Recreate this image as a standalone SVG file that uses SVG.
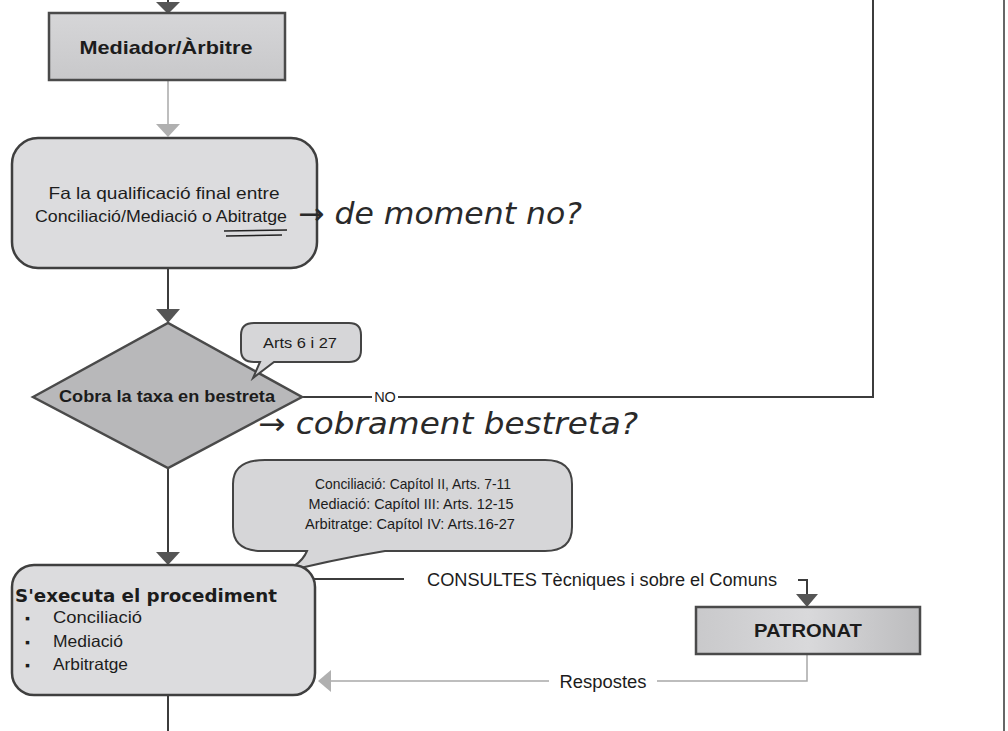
<svg xmlns="http://www.w3.org/2000/svg" width="1008" height="731" viewBox="0 0 1008 731">
<defs>
<linearGradient id="gbox" x1="0" y1="0" x2="0" y2="1"><stop offset="0" stop-color="#d6d6d8"/><stop offset="1" stop-color="#c8c8ca"/></linearGradient>
<linearGradient id="gpat" x1="0" y1="0" x2="1" y2="0"><stop offset="0" stop-color="#c9c9cb"/><stop offset="0.5" stop-color="#d9d9db"/><stop offset="1" stop-color="#bcbcbe"/></linearGradient>
</defs>
<style>
.box{fill:url(#gbox);stroke:#4a4a4a;stroke-width:2.5}
.rnd{fill:#dcdcde;stroke:#3f3f3f;stroke-width:2.5}
.call{fill:#d6d6d8;stroke:#444;stroke-width:2}
.dk{stroke:#3c3c3c;stroke-width:2;fill:none}
.lt{stroke:#a8a8a8;stroke-width:1.5;fill:none}
.ahd{fill:#555}
.ahl{fill:#b0b0b0}
.t{font-family:"Liberation Sans",Arial,sans-serif;fill:#1c1c1c}
.b{font-weight:bold}
.hw{font-family:"DejaVu Sans",sans-serif;font-style:italic;fill:#2a2a2a;font-weight:300}
</style>
<rect width="1008" height="731" fill="#ffffff"/>
<line x1="1004" y1="0" x2="1004" y2="731" stroke="#666" stroke-width="2"/>

<g id="connectors">
<line class="dk" x1="168" y1="0" x2="168" y2="6"/>
<polygon class="ahd" points="156,2 180,2 168,14"/>
<line class="lt" x1="168" y1="80" x2="168" y2="125"/>
<polygon class="ahl" points="156,124 180,124 168,137"/>
<line class="dk" x1="168" y1="268" x2="168" y2="310"/>
<polygon class="ahd" points="156,309 180,309 168,323"/>
<polyline class="dk" points="302,397 372,397"/>
<polyline class="dk" points="398,397 873,397 873,0"/>
<line class="dk" x1="168" y1="468" x2="168" y2="553"/>
<polygon class="ahd" points="156,552 180,552 168,565"/>
<line class="dk" x1="168" y1="695" x2="168" y2="731"/>
<line class="dk" x1="307" y1="579" x2="404" y2="579"/>
<polyline class="dk" points="798,580 807,580 807,595"/>
<polygon class="ahd" points="796,594 818,594 807,607"/>
<polyline class="lt" points="807,654 807,681 657,681"/>
<line class="lt" x1="549" y1="681" x2="331" y2="681"/>
<polygon class="ahl" points="318,681 331,670 331,692"/>
</g>

<g id="n-mediador">
<rect class="box" x="49" y="13" width="236" height="67"/>
<text class="t b" x="166" y="54" font-size="19" text-anchor="middle" textLength="173" lengthAdjust="spacingAndGlyphs">Mediador/Àrbitre</text>
</g>

<g id="n-qualificacio">
<rect class="rnd" x="12" y="138" width="305" height="130" rx="26"/>
<text class="t" x="164" y="199" font-size="16.5" text-anchor="middle" textLength="231" lengthAdjust="spacingAndGlyphs">Fa la qualificació final entre</text>
<text class="t" x="161" y="222" font-size="16.5" text-anchor="middle" textLength="252" lengthAdjust="spacingAndGlyphs">Conciliació/Mediació o Abitratge</text>
<path d="M224,231 L287,230 M226,236 L282,235" stroke="#222" stroke-width="1.6" fill="none"/>
</g>

<g id="n-taxa">
<polygon points="33,397 168,323 302,397 168,468" fill="#b8b8ba" stroke="#4a4a4a" stroke-width="2.5"/>
<text class="t b" x="167" y="402" font-size="17" text-anchor="middle" textLength="216" lengthAdjust="spacingAndGlyphs">Cobra la taxa en  bestreta</text>
</g>

<g id="n-arts">
<path class="call" d="M254,323 H349 Q361,323 361,335 V350 Q361,362 349,362 H274 L253,378 L260,362 H254 Q241,362 241,350 V335 Q241,323 254,323 Z"/>
<text class="t" x="300" y="348" font-size="15" text-anchor="middle" textLength="74" lengthAdjust="spacingAndGlyphs">Arts 6 i 27</text>
</g>

<g id="n-capitols">
<path class="call" d="M265,460 H545 Q572,460 572,484 V527 Q572,551 545,551 H385 Q330,560 272,575 Q300,568 307,551 H262 Q233,551 233,527 V484 Q233,460 265,460 Z"/>
<text class="t" x="413" y="489" font-size="14.5" text-anchor="middle" textLength="196" lengthAdjust="spacingAndGlyphs">Conciliació: Capítol II, Arts. 7-11</text>
<text class="t" x="411" y="509" font-size="14.5" text-anchor="middle" textLength="205" lengthAdjust="spacingAndGlyphs">Mediació: Capítol III:  Arts. 12-15</text>
<text class="t" x="410" y="529" font-size="14.5" text-anchor="middle" textLength="210" lengthAdjust="spacingAndGlyphs">Arbitratge: Capítol IV: Arts.16-27</text>
</g>

<g id="n-executa">
<rect class="rnd" x="12" y="565" width="303" height="130" rx="22"/>
<text class="t b" x="15" y="602" font-size="18" style="font-family:'DejaVu Sans',sans-serif" textLength="262" lengthAdjust="spacingAndGlyphs">S'executa el procediment</text>
<text class="t" x="25" y="623" font-size="14">▪</text>
<text class="t" x="53" y="623" font-size="16.5" textLength="89" lengthAdjust="spacingAndGlyphs">Conciliació</text>
<text class="t" x="25" y="647" font-size="14">▪</text>
<text class="t" x="53" y="647" font-size="16.5" textLength="70" lengthAdjust="spacingAndGlyphs">Mediació</text>
<text class="t" x="25" y="670" font-size="14">▪</text>
<text class="t" x="53" y="670" font-size="16.5" textLength="75" lengthAdjust="spacingAndGlyphs">Arbitratge</text>
</g>

<g id="n-patronat">
<rect x="696" y="607" width="224" height="47" fill="url(#gpat)" stroke="#4a4a4a" stroke-width="2.5"/>
<text class="t b" x="808" y="637" font-size="18" text-anchor="middle" textLength="108" lengthAdjust="spacingAndGlyphs">PATRONAT</text>
</g>

<g id="labels">
<text class="t" x="385" y="402" font-size="14.5" text-anchor="middle">NO</text>
<text class="t" x="602" y="586" font-size="17.5" text-anchor="middle" textLength="350" lengthAdjust="spacingAndGlyphs">CONSULTES Tècniques i sobre el Comuns</text>
<text class="t" x="603" y="688" font-size="17.5" text-anchor="middle" textLength="87" lengthAdjust="spacingAndGlyphs">Respostes</text>
</g>

<g id="handwriting">
<text class="hw" x="298" y="224" font-size="30" textLength="284" lengthAdjust="spacingAndGlyphs">→ de moment no?</text>
<text class="hw" x="258" y="434" font-size="30" textLength="380" lengthAdjust="spacingAndGlyphs">→ cobrament bestreta?</text>
</g>
</svg>
